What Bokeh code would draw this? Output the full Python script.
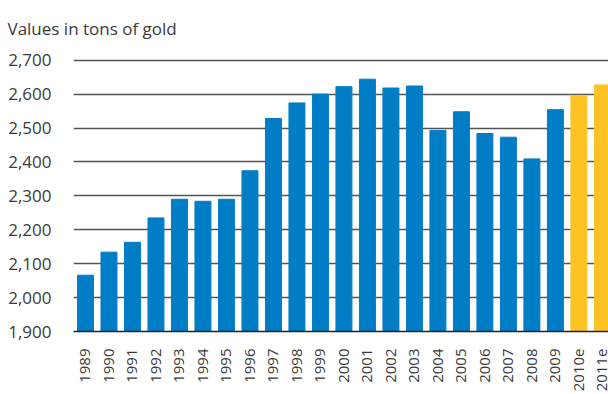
from bokeh.plotting import figure
from bokeh.models import Range1d, FixedTicker, NumeralTickFormatter, ColumnDataSource
from bokeh.embed import file_html
from bokeh.resources import INLINE
import math

years = ["1989", "1990", "1991", "1992", "1993", "1994", "1995", "1996", "1997", "1998",
         "1999", "2000", "2001", "2002", "2003", "2004", "2005", "2006", "2007", "2008",
         "2009", "2010e", "2011e"]
values = [2066, 2134, 2163, 2235, 2290, 2284, 2290, 2374, 2528, 2574,
          2600, 2622, 2644, 2618, 2624, 2493, 2548, 2484, 2473, 2409,
          2554, 2595, 2627]
y_ticks = [1900, 2000, 2100, 2200, 2300, 2400, 2500, 2600, 2700]
title_text = "Values in tons of gold"

BLUE = "#007DC5"
YELLOW = "#FDC323"
TEXT = "#3a3a3a"
FONT = "Open Sans"

idx = list(range(len(years)))
colors = [YELLOW if y.endswith("e") else BLUE for y in years]
src = ColumnDataSource(dict(x=idx, top=values, color=colors))

p = figure(width=608, height=394, output_backend="svg", toolbar_location=None,
           x_range=Range1d(-0.51, 22.26), y_range=Range1d(1900, 2708),
           min_border_left=73, min_border_right=0, min_border_top=55,
           min_border_bottom=61)

p.vbar(x="x", top="top", bottom=1900, width=0.68, color="color", source=src)

p.outline_line_color = None
p.background_fill_color = None
p.border_fill_color = "white"

p.title.text = title_text
p.title.text_font = FONT
p.title.text_font_size = "17px"
p.title.text_font_style = "normal"
p.title.text_color = TEXT
p.title.align = "left"
p.title.vertical_align = "top"
p.title.offset = -66
p.title.standoff = 32

p.xgrid.grid_line_color = None
p.ygrid.ticker = FixedTicker(ticks=y_ticks)
p.ygrid.grid_line_color = "#555555"
p.ygrid.grid_line_width = 1.3
p.ygrid.level = "underlay"

ya = p.yaxis[0]
ya.ticker = FixedTicker(ticks=y_ticks)
ya.formatter = NumeralTickFormatter(format="0,0")
ya.axis_line_color = None
ya.major_tick_line_color = None
ya.minor_tick_line_color = None
ya.major_tick_out = 0
ya.major_tick_in = 0
ya.minor_tick_out = 0
ya.major_label_text_font = FONT
ya.major_label_text_font_size = "17px"
ya.major_label_text_color = TEXT
ya.major_label_standoff = 22

xa = p.xaxis[0]
xa.ticker = FixedTicker(ticks=idx)
xa.major_label_overrides = {i: y for i, y in enumerate(years)}
xa.major_label_orientation = math.pi / 2
xa.axis_line_color = "#222222"
xa.axis_line_width = 1.5
xa.major_tick_line_color = None
xa.minor_tick_line_color = None
xa.major_tick_out = 0
xa.major_tick_in = 0
xa.minor_tick_out = 0
xa.major_label_text_font = FONT
xa.major_label_text_font_size = "15px"
xa.major_label_text_color = TEXT
xa.major_label_standoff = 17

open("out.html", "w").write(file_html(p, INLINE))
